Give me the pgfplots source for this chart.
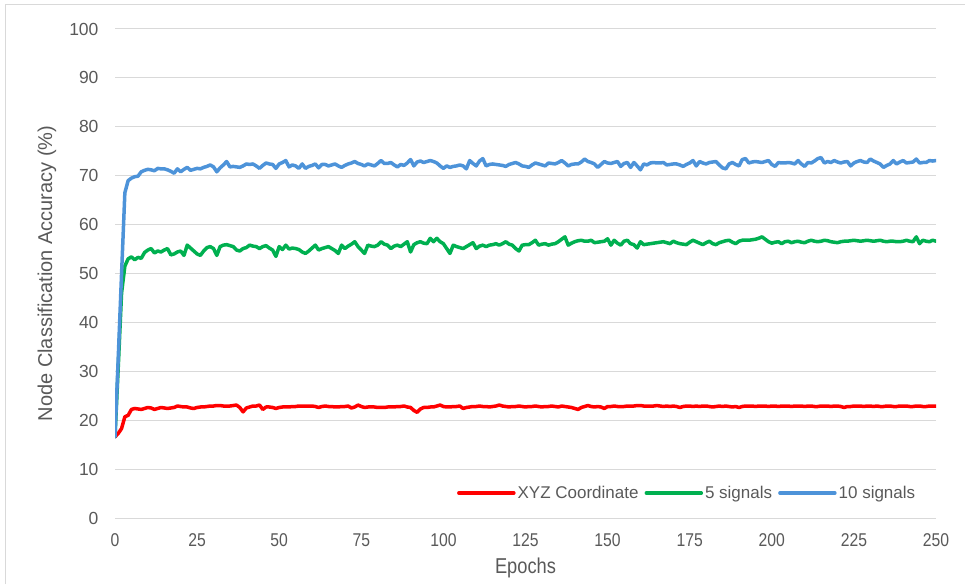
\documentclass[border=0pt]{standalone}
\usepackage{fontspec}
\setmainfont{Liberation Sans}
\newfontfamily\narrowfont[FakeStretch=0.85]{Liberation Sans}
\usepackage{pgfplots}
\usepackage{pgfplotstable}
\pgfplotsset{compat=1.18}

\definecolor{txtgray}{RGB}{89,89,89}
\definecolor{gridgray}{RGB}{217,217,217}
\definecolor{cred}{RGB}{255,0,0}
\definecolor{cgreen}{RGB}{0,176,80}
\definecolor{cblue}{RGB}{77,147,217}

% epoch, XYZ coordinate, 5 signals, 10 signals
\pgfplotstableread{
e r g b
0 16.6 16.6 16.6
1 17.3 31.0 33.0
2 18.3 46.0 50.0
3 20.7 51.5 66.5
4 21.0 53.0 69.0
5 22.2 53.4 69.5
6 22.4 52.8 69.8
7 22.3 53.3 69.9
8 22.2 53.1 70.8
9 22.4 54.3 71.1
10 22.6 54.8 71.3
11 22.5 55.1 71.2
12 22.2 54.2 71.0
13 22.4 54.6 71.5
14 22.6 54.4 71.4
15 22.5 54.8 71.4
16 22.4 55.1 71.2
17 22.5 53.8 70.9
18 22.6 54.0 70.5
19 22.9 54.4 71.4
20 22.8 54.6 70.8
21 22.7 53.7 71.3
22 22.7 55.8 71.7
23 22.5 55.2 71.1
24 22.4 54.6 71.3
25 22.6 54.0 71.5
26 22.7 53.7 71.4
27 22.7 54.6 71.7
28 22.8 55.3 71.9
29 22.9 55.5 72.2
30 22.9 55.1 71.8
31 23.0 53.7 70.8
32 23.0 55.5 71.6
33 22.9 55.8 72.2
34 22.9 55.9 72.9
35 22.9 55.7 71.8
36 23.0 55.5 71.9
37 23.1 54.8 71.8
38 22.6 54.6 71.7
39 21.7 55.1 72.0
40 22.5 55.3 72.4
41 22.7 55.8 72.3
42 22.9 55.6 72.4
43 22.9 55.5 72.0
44 23.1 55.1 71.5
45 22.2 55.5 72.1
46 22.7 55.7 72.6
47 22.7 55.2 72.4
48 22.6 54.8 72.3
49 22.4 53.5 71.5
50 22.6 55.5 72.4
51 22.7 54.9 72.7
52 22.7 55.8 73.1
53 22.7 55.0 71.8
54 22.8 55.2 72.2
55 22.8 55.1 72.0
56 22.9 54.9 71.5
57 22.9 54.4 72.4
58 22.9 54.1 71.5
59 22.9 54.6 71.9
60 22.9 55.2 72.1
61 22.8 55.8 72.4
62 22.6 54.8 71.6
63 22.8 55.1 72.3
64 22.9 55.3 72.3
65 22.8 55.5 72.0
66 22.8 55.1 72.2
67 22.7 54.7 72.4
68 22.7 54.1 72.0
69 22.8 55.8 71.7
70 22.8 55.1 72.1
71 22.9 55.6 72.4
72 22.5 56.0 72.6
73 22.7 56.5 72.9
74 23.1 55.5 72.5
75 22.8 54.8 72.3
76 22.6 54.1 72.0
77 22.7 55.8 72.4
78 22.7 55.6 72.2
79 22.7 55.5 72.0
80 22.6 55.8 72.5
81 22.6 56.5 73.1
82 22.6 56.0 72.5
83 22.7 55.8 72.5
84 22.7 55.1 72.7
85 22.7 55.6 72.2
86 22.8 55.8 71.8
87 22.8 55.5 72.3
88 22.9 56.0 72.1
89 22.7 56.5 72.6
90 22.6 54.4 73.3
91 22.0 55.9 72.0
92 21.6 56.3 72.8
93 22.3 56.5 73.0
94 22.6 56.2 72.7
95 22.6 56.1 72.9
96 22.7 57.2 73.1
97 22.7 56.5 72.9
98 22.9 57.2 72.6
99 23.1 56.5 72.0
100 22.8 56.1 71.5
101 22.7 55.1 72.0
102 22.7 54.1 71.7
103 22.8 55.8 71.9
104 22.8 55.5 72.0
105 22.9 55.3 72.2
106 22.4 55.1 72.0
107 22.6 55.5 71.4
108 22.7 55.9 73.1
109 22.8 56.3 72.5
110 22.8 55.1 72.0
111 22.9 55.6 73.0
112 22.8 55.8 73.5
113 22.8 55.5 72.0
114 22.7 55.8 72.3
115 22.8 55.9 72.4
116 22.9 56.1 72.3
117 23.1 55.8 72.2
118 22.9 56.1 72.1
119 22.8 56.5 71.9
120 22.7 56.0 72.3
121 22.8 55.8 72.5
122 22.8 55.1 72.7
123 22.9 54.6 72.4
124 22.8 55.8 72.0
125 22.7 55.9 71.9
126 22.8 55.9 71.7
127 22.8 56.3 72.2
128 22.9 56.8 72.6
129 22.8 55.8 72.4
130 22.7 56.0 72.2
131 22.8 56.1 72.0
132 22.8 55.8 72.6
133 22.9 56.0 72.5
134 22.8 56.1 72.4
135 22.7 56.5 72.7
136 22.9 57.0 73.1
137 22.8 57.5 72.6
138 22.7 55.8 72.0
139 22.6 56.2 72.3
140 22.4 56.5 72.4
141 22.2 56.7 72.4
142 22.6 56.8 72.8
143 22.8 56.6 73.4
144 23.0 56.6 72.9
145 22.8 56.8 72.7
146 22.7 56.3 72.4
147 22.8 56.4 71.7
148 22.7 56.5 72.3
149 22.4 56.6 72.9
150 22.8 57.1 72.6
151 22.8 55.8 72.5
152 22.9 56.8 72.7
153 22.8 56.2 72.9
154 22.8 55.8 71.9
155 22.8 56.6 72.5
156 22.9 56.8 72.7
157 22.9 56.1 71.7
158 22.9 55.9 72.7
159 23.0 55.2 72.0
160 23.0 56.5 71.2
161 22.9 55.9 72.4
162 22.9 56.0 72.2
163 22.9 56.1 72.6
164 22.9 56.2 72.7
165 23.0 56.3 72.6
166 22.9 56.4 72.6
167 22.8 56.5 72.7
168 22.9 56.3 72.2
169 22.8 56.1 72.3
170 22.9 56.6 72.4
171 22.8 56.3 72.4
172 22.6 56.1 72.2
173 22.8 56.0 71.9
174 22.9 55.9 72.3
175 22.9 56.4 72.6
176 22.8 56.8 73.1
177 22.9 56.5 72.0
178 22.8 56.2 72.9
179 22.9 55.9 72.6
180 22.9 56.3 72.4
181 22.8 56.6 72.7
182 22.7 56.1 72.8
183 22.8 55.9 72.9
184 22.9 56.3 72.2
185 22.8 56.5 71.6
186 22.9 56.7 71.4
187 22.8 56.8 72.4
188 22.7 56.4 72.7
189 22.8 56.1 72.3
190 22.6 56.6 72.0
191 22.8 56.8 73.3
192 22.9 56.8 73.5
193 22.9 56.8 72.6
194 22.9 56.9 72.8
195 22.8 57.0 72.9
196 22.9 57.2 72.8
197 22.9 57.5 72.7
198 22.9 57.0 72.9
199 22.8 56.5 73.1
200 22.9 56.2 72.3
201 22.9 56.4 71.9
202 22.8 56.5 72.7
203 22.9 56.1 72.6
204 22.9 56.5 72.6
205 22.9 56.6 72.7
206 22.8 56.3 72.6
207 22.9 56.5 72.4
208 22.9 56.6 73.1
209 22.9 56.4 72.4
210 22.8 56.3 71.9
211 22.9 56.6 72.7
212 22.9 56.8 72.6
213 22.8 56.6 73.0
214 22.8 56.5 73.5
215 22.9 56.6 73.7
216 22.9 56.8 72.6
217 22.9 56.7 72.9
218 22.8 56.5 72.7
219 22.9 56.4 73.1
220 22.9 56.3 72.8
221 22.8 56.5 72.6
222 22.6 56.6 72.8
223 22.8 56.6 72.9
224 22.8 56.7 72.0
225 22.9 56.8 72.6
226 22.9 56.7 72.9
227 22.9 56.6 73.1
228 22.8 56.7 72.8
229 22.9 56.8 72.7
230 22.9 56.7 73.4
231 22.8 56.6 73.0
232 22.9 56.7 72.7
233 22.8 56.8 72.4
234 22.8 56.6 71.7
235 22.9 56.5 72.1
236 22.9 56.6 72.4
237 22.8 56.6 73.1
238 22.8 56.5 72.4
239 22.9 56.5 72.8
240 22.9 56.6 73.1
241 22.9 56.8 72.6
242 22.8 56.6 72.7
243 22.8 56.5 72.8
244 22.9 57.5 73.4
245 22.9 56.1 72.6
246 22.8 56.8 72.7
247 22.8 56.6 72.7
248 22.9 56.5 73.1
249 22.9 56.8 73.0
250 22.9 56.6 73.1
}\acc

\begin{document}
\begin{tikzpicture}
% canvas 965 x 584, the plot area sits at (115,29)-(936,518)
\path[use as bounding box] (-115pt,-66pt) rectangle (850pt,518pt);
\draw[gridgray, line width=1pt] (-109.5pt,-66pt) -- (-109.5pt,513.5pt) -- (850pt,513.5pt);
\begin{axis}[
    at={(0,0)}, anchor=south west,
    scale only axis, width=821pt, height=489pt,
    xmin=0, xmax=250, ymin=0, ymax=100,
    xtick={0,25,...,250}, ytick={0,10,...,100},
    ymajorgrids, major grid style={draw=gridgray, line width=1pt},
    axis line style={draw=none}, tick style={draw=none}, major tick length=0pt,
    /pgf/number format/assume math mode=true,
    yticklabel style={font=\fontsize{17.5}{20}\selectfont, text=txtgray, xshift=-13pt},
    xticklabel style={font=\narrowfont\fontsize{18.5}{21}\selectfont, text=txtgray, yshift=-12pt},
    xlabel={Epochs}, ylabel={Node Classification Accuracy (\%)},
    every axis x label/.style={at={(axis description cs:0.5,-0.102)}, anchor=center,
        font=\narrowfont\fontsize{21.5}{24}\selectfont, text=txtgray},
    every axis y label/.style={at={(axis description cs:-0.083,0.5)}, anchor=center, rotate=90,
        font=\fontsize{20}{24}\selectfont, text=txtgray},
    legend columns=3,
    legend style={at={(axis description cs:0.981,0.051)}, anchor=east, draw=none, fill=none,
        font=\fontsize{17}{20}\selectfont, text=txtgray,
        /tikz/every even column/.append style={column sep=4pt}},
    legend image code/.code={\draw[#1] (0pt,0pt) -- (55pt,0pt);},
    every axis plot/.append style={line width=3.5pt, line join=round, line cap=round},
]
\addplot[cred] table[x=e, y=r] {\acc};
\addlegendentry{XYZ Coordinate}
\addplot[cgreen] table[x=e, y=g] {\acc};
\addlegendentry{5 signals}
\addplot[cblue] table[x=e, y=b] {\acc};
\addlegendentry{10 signals}
\end{axis}
\end{tikzpicture}
\end{document}
